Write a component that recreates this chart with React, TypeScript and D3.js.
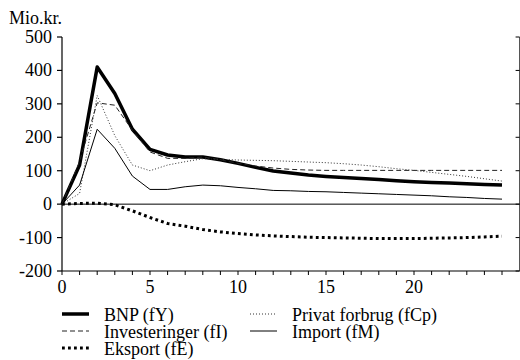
import React from "react";
import * as d3 from "d3";

// Periods after the shock (years)
const periods: number[] = d3.range(0, 26);

const bnp: number[] = [0, 117, 410, 331, 224, 164, 147, 141, 141, 133, 122, 110, 99, 93, 87, 83, 80, 77, 74, 70, 67, 65, 63, 61, 59, 57];
const investeringer: number[] = [0, 128, 303, 296, 221, 156, 137, 137, 141, 133, 122, 114, 108, 104, 102, 101, 101, 101, 101, 101, 101, 101, 101, 101, 101, 101];
const privatForbrug: number[] = [0, 32, 325, 205, 117, 100, 117, 127, 136, 134, 132, 131, 130, 128, 126, 124, 121, 117, 112, 106, 101, 95, 89, 83, 76, 69];
const importSeries: number[] = [0, 57, 224, 167, 84, 44, 44, 52, 57, 55, 50, 46, 41, 40, 38, 37, 35, 33, 31, 29, 27, 25, 22, 20, 17, 15];
const eksport: number[] = [0, 2, 3, -2, -20, -40, -58, -66, -76, -83, -88, -92, -95, -97, -99, -100, -101, -102, -103, -103, -103, -102, -101, -100, -98, -96];

const yTicks: number[] = [-200, -100, 0, 100, 200, 300, 400, 500];
const xLabelTicks: number[] = [0, 5, 10, 15, 20];
const xMinorTicks: number[] = d3.range(0, 26);

const seriesNames: string[] = ["BNP (fY)", "Investeringer (fI)", "Eksport (fE)", "Privat forbrug (fCp)", "Import (fM)"];

type Style = { width: number; dash?: string; color: string };

const styles: Style[] = [
  { width: 3.5, color: "#000" },
  { width: 1, dash: "5,3", color: "#222" },
  { width: 3, dash: "2.8,3.2", color: "#000" },
  { width: 1, dash: "1,2", color: "#333" },
  { width: 1, color: "#000" },
];

const W = 520;
const H = 360;
const left = 62;
const right = 519.6;
const top = 37;
const bottom = 271;

const fontSize = 18;
const textStyle = { fontFamily: "Liberation Serif" };

export default function App() {
  const x = d3.scaleLinear().domain([0, 26]).range([left, right]);
  const y = d3.scaleLinear().domain([-200, 500]).range([bottom, top]);

  const data = [bnp, investeringer, eksport, privatForbrug, importSeries];
  const line = d3
    .line<number>()
    .x((_, i) => x(periods[i]))
    .y((v) => y(v));

  // Legend layout: first column three rows, second column two rows
  const legendPos = [
    { lx: 62, ly: 314 },
    { lx: 62, ly: 331 },
    { lx: 62, ly: 348 },
    { lx: 250, ly: 314 },
    { lx: 250, ly: 331 },
  ];

  return (
    <svg width={W} height={H} style={{ position: "absolute", left: 0, top: 0, background: "#fff" }}>
      <text x={9} y={24} fontSize={fontSize} fill="#000" style={textStyle}>
        Mio.kr.
      </text>

      {/* left axis */}
      <line x1={left} x2={left} y1={top} y2={bottom} stroke="#000" strokeWidth={1.2} />
      {yTicks.map((t) => (
        <g key={"yl" + t}>
          <line x1={left - 5} x2={left} y1={y(t)} y2={y(t)} stroke="#000" strokeWidth={1.2} />
          <text x={left - 10} y={y(t) + 6} textAnchor="end" fontSize={fontSize} style={textStyle}>
            {t}
          </text>
        </g>
      ))}

      {/* right axis */}
      <line x1={right} x2={right} y1={top} y2={bottom} stroke="#555" strokeWidth={1.2} />
      {yTicks.map((t) => (
        <line key={"yr" + t} x1={right - 4} x2={right} y1={y(t)} y2={y(t)} stroke="#000" strokeWidth={1} />
      ))}

      {/* bottom axis */}
      <line x1={left} x2={right} y1={bottom} y2={bottom} stroke="#000" strokeWidth={1.2} />
      {xMinorTicks.map((t) => (
        <line key={"xt" + t} x1={x(t)} x2={x(t)} y1={bottom} y2={bottom + 4} stroke="#000" strokeWidth={1} />
      ))}
      {xLabelTicks.map((t) => (
        <text key={"xl" + t} x={x(t)} y={293} textAnchor="middle" fontSize={fontSize} style={textStyle}>
          {t}
        </text>
      ))}

      {/* zero line */}
      <line x1={left} x2={right} y1={y(0)} y2={y(0)} stroke="#000" strokeWidth={1} />

      {/* series */}
      {data.map((d, i) => (
        <path
          key={"s" + i}
          d={line(d) || ""}
          fill="none"
          stroke={styles[i].color}
          strokeWidth={styles[i].width}
          strokeDasharray={styles[i].dash}
          strokeLinejoin="round"
        />
      ))}

      {/* legend */}
      {seriesNames.map((name, i) => {
        const p = legendPos[i];
        return (
          <g key={"lg" + i}>
            <line
              x1={p.lx}
              x2={p.lx + 27}
              y1={p.ly}
              y2={p.ly}
              stroke={styles[i].color}
              strokeWidth={styles[i].width}
              strokeDasharray={styles[i].dash}
            />
            <text x={p.lx + 42} y={p.ly + 7} fontSize={fontSize} style={textStyle}>
              {name}
            </text>
          </g>
        );
      })}
    </svg>
  );
}
